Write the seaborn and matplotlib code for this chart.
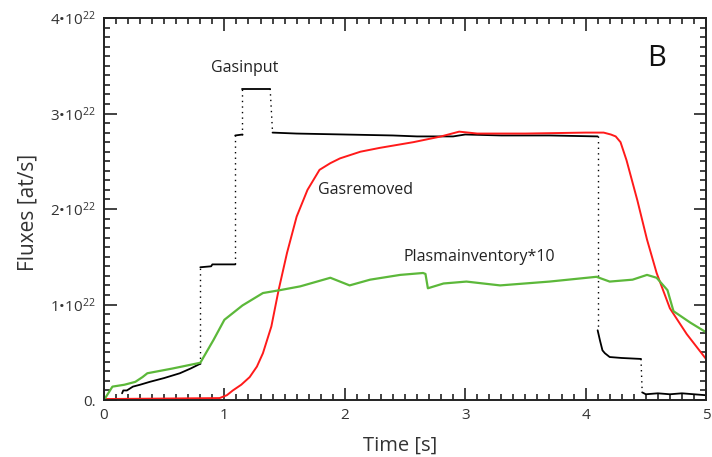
import numpy as np
import pandas as pd
import matplotlib
matplotlib.use("Agg")
import matplotlib.pyplot as plt
from matplotlib.ticker import MultipleLocator, FuncFormatter
import seaborn as sns

# gas input, split into solid pieces; jumps between pieces are dotted
gas_in_t = [
    [0.15, 0.16, 0.19, 0.24, 0.30, 0.38, 0.50, 0.63, 0.72, 0.80],
    [0.80, 0.89, 0.90, 1.09],
    [1.09, 1.15],
    [1.15, 1.38],
    [1.40, 1.60, 2.00, 2.40, 2.60, 2.90, 3.00, 3.30, 3.70, 4.10],
    [4.10, 4.12, 4.14, 4.16, 4.20, 4.30, 4.46],
    [4.47, 4.50, 4.60, 4.70, 4.80, 4.90, 5.00],
]
gas_in_y = [
    [0.07, 0.10, 0.10, 0.14, 0.16, 0.19, 0.23, 0.28, 0.33, 0.38],
    [1.39, 1.40, 1.42, 1.42],
    [2.77, 2.78],
    [3.26, 3.26],
    [2.80, 2.79, 2.78, 2.77, 2.76, 2.76, 2.78, 2.77, 2.77, 2.76],
    [0.73, 0.62, 0.52, 0.49, 0.45, 0.44, 0.43],
    [0.08, 0.06, 0.07, 0.06, 0.07, 0.06, 0.05],
]

gas_rem_t = [0.0, 0.96, 1.02, 1.07, 1.14, 1.21, 1.27, 1.32, 1.39, 1.45, 1.52,
             1.60, 1.69, 1.79, 1.88, 1.96, 2.13, 2.29, 2.57, 2.80, 2.95, 3.10,
             3.50, 4.00, 4.15, 4.21, 4.25, 4.29, 4.34, 4.43, 4.51, 4.59, 4.70,
             4.84, 5.0]
gas_rem_y = [0.01, 0.02, 0.05, 0.10, 0.16, 0.24, 0.35, 0.49, 0.77, 1.15, 1.54,
             1.92, 2.20, 2.41, 2.48, 2.53, 2.60, 2.64, 2.70, 2.76, 2.81, 2.79,
             2.79, 2.80, 2.80, 2.78, 2.76, 2.70, 2.51, 2.09, 1.68, 1.33, 0.96,
             0.69, 0.43]

plasma_t = [0.0, 0.07, 0.17, 0.26, 0.32, 0.36, 0.57, 0.80, 0.91, 1.00, 1.15,
            1.32, 1.46, 1.63, 1.88, 2.04, 2.21, 2.46, 2.65, 2.67, 2.69, 2.82,
            3.01, 3.29, 3.70, 4.09, 4.20, 4.39, 4.51, 4.59, 4.68, 4.73, 4.87,
            5.0]
plasma_y = [0.0, 0.14, 0.16, 0.19, 0.24, 0.28, 0.33, 0.39, 0.63, 0.84, 0.99,
            1.12, 1.15, 1.19, 1.28, 1.20, 1.26, 1.31, 1.33, 1.32, 1.17, 1.22,
            1.24, 1.20, 1.24, 1.29, 1.24, 1.26, 1.31, 1.28, 1.15, 0.93, 0.81,
            0.71]

y_ticks = [0, 1, 2, 3, 4]

sns.set_style("ticks")
plt.rcParams['font.family'] = ['Open Sans', 'DejaVu Sans']
plt.rcParams['mathtext.fontset'] = 'custom'
plt.rcParams['mathtext.rm'] = 'Open Sans'
plt.rcParams['mathtext.it'] = 'Open Sans'

fig = plt.figure(figsize=(7.12, 4.57), dpi=100)
ax = fig.add_axes([104 / 712, 1 - 400 / 457, 602 / 712, 382 / 457])

for i in range(len(gas_in_t)):
    df = pd.DataFrame({'t': gas_in_t[i], 'y': gas_in_y[i]})
    sns.lineplot(data=df, x='t', y='y', ax=ax, color='black', lw=1.3,
                 estimator=None, sort=False)
    if i + 1 < len(gas_in_t):
        ax.plot([gas_in_t[i][-1], gas_in_t[i + 1][0]],
                [gas_in_y[i][-1], gas_in_y[i + 1][0]],
                color='black', lw=1.0, ls=(0, (1, 3)))

sns.lineplot(x=gas_rem_t, y=gas_rem_y, ax=ax, color='#ff1a1a', lw=1.4,
             estimator=None, sort=False)
sns.lineplot(x=plasma_t, y=plasma_y, ax=ax, color='#5cb83a', lw=1.6,
             estimator=None, sort=False)

ax.text(1.17, 3.48, 'Gasinput', ha='center', va='center', fontsize=11.5,
        color='#222222')
ax.text(2.17, 2.20, 'Gasremoved', ha='center', va='center', fontsize=11.5,
        color='#222222')
ax.text(3.12, 1.50, 'Plasmainventory*10', ha='center', va='center',
        fontsize=11.5, color='#222222')
ax.text(4.59, 3.58, 'B', ha='center', va='center', fontsize=21,
        color='#111111')

ax.set_xlim(0, 5)
ax.set_ylim(0, 4)
ax.xaxis.set_major_locator(MultipleLocator(1))
ax.xaxis.set_minor_locator(MultipleLocator(0.1))
ax.yaxis.set_major_locator(MultipleLocator(1))
ax.yaxis.set_minor_locator(MultipleLocator(0.1))


def yfmt(v, pos):
    if abs(v) < 1e-9:
        return '0.'
    return '%d•10$^{22}$' % round(v)


ax.yaxis.set_major_formatter(FuncFormatter(yfmt))
ax.xaxis.set_major_formatter(FuncFormatter(lambda v, p: '%d' % round(v)))
ax.tick_params(which='both', direction='in', top=True, right=True,
               color='#222222', width=1.2, labelsize=11, labelcolor='#333333')
ax.tick_params(which='major', length=9, pad=6)
ax.tick_params(which='minor', length=4.5)
for s in ax.spines.values():
    s.set_linewidth(1.4)
    s.set_color('#222222')

ax.set_xlabel('')
ax.set_ylabel('')
fig.text(400 / 712, 1 - 446 / 457, 'Time [s]', ha='center', va='center',
         fontsize=14.5, color='#333333')
fig.text(28 / 712, 1 - 212 / 457, 'Fluxes [at/s]', ha='center', va='center',
         rotation=90, fontsize=15, color='#333333')

fig.savefig('out.png', dpi=100)
